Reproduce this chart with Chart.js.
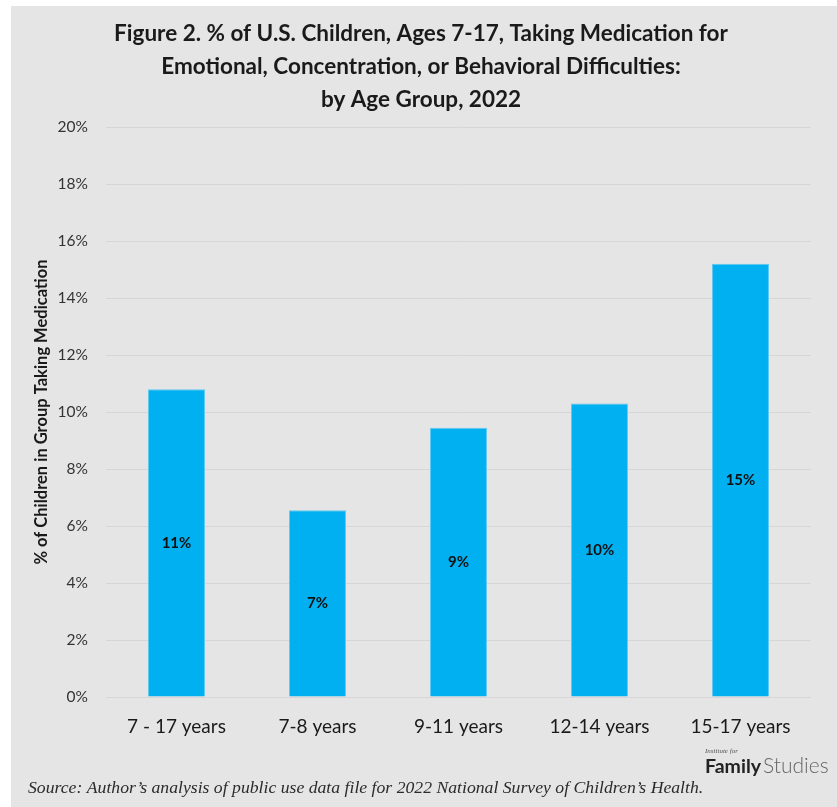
<!DOCTYPE html>
<html>
<head>
<meta charset="utf-8">
<script src="https://cdn.jsdelivr.net/npm/chart.js@4"></script>
<style>
  html, body { margin: 0; padding: 0; background: #ffffff; }
  #wrap { width: 837px; height: 807px; }
</style>
</head>
<body>
<div id="wrap"><canvas id="ageChart" width="837" height="807"></canvas></div>
<script>
const categories = ['7 - 17 years', '7-8 years', '9-11 years', '12-14 years', '15-17 years'];
const pctTaking = [10.8, 6.55, 9.45, 10.3, 15.2];
const titleLines = [
  'Figure 2. % of U.S. Children, Ages 7-17, Taking Medication for',
  'Emotional, Concentration, or Behavioral Difficulties:',
  'by Age Group, 2022'
];
const yAxisTitle = '% of Children in Group Taking Medication';
const sourceNote = 'Source: Author\u2019s analysis of public use data file for 2022 National Survey of Children\u2019s Health.';

const FONT = 'Lato, "Open Sans", sans-serif';

// grey panel behind everything, plus the footnote and logo
const panelPlugin = {
  id: 'panel',
  beforeDraw(chart) {
    const ctx = chart.ctx;
    ctx.save();
    ctx.fillStyle = '#e5e5e5';
    ctx.fillRect(11, 6, chart.width - 11, chart.height - 6);
    ctx.restore();
  },
  afterDraw(chart) {
    const ctx = chart.ctx;
    ctx.save();
    ctx.fillStyle = '#2b2b2b';
    ctx.font = 'italic 17.7px "Liberation Serif", serif';
    ctx.textBaseline = 'alphabetic';
    ctx.textAlign = 'left';
    ctx.fillText(sourceNote, 28, 793);

    ctx.font = 'italic 7px "Liberation Serif", serif';
    ctx.fillStyle = '#555';
    ctx.fillText('Institute for', 705, 753);
    ctx.font = 'bold 19.5px ' + FONT;
    ctx.fillStyle = '#222';
    ctx.fillText('Family', 705, 773);
    const w = ctx.measureText('Family').width;
    ctx.font = '300 21px ' + FONT;
    ctx.fillStyle = '#666';
    ctx.fillText('Studies', 705 + w + 2, 773);
    ctx.restore();
  }
};

// rounded value written in the middle of each bar
const barLabelPlugin = {
  id: 'barLabels',
  afterDatasetsDraw(chart) {
    const ctx = chart.ctx;
    const meta = chart.getDatasetMeta(0);
    ctx.save();
    ctx.font = 'bold 15px ' + FONT;
    ctx.fillStyle = '#111';
    ctx.textAlign = 'center';
    ctx.textBaseline = 'middle';
    meta.data.forEach((bar, i) => {
      const mid = (bar.y + bar.base) / 2;
      ctx.fillText(Math.round(pctTaking[i]) + '%', bar.x, mid);
    });
    ctx.restore();
  }
};

new Chart(document.getElementById('ageChart'), {
  type: 'bar',
  data: {
    labels: categories,
    datasets: [{
      data: pctTaking,
      backgroundColor: '#00b0f0',
      borderColor: '#5fc8f2',
      borderWidth: 1,
      categoryPercentage: 1.0,
      barPercentage: 0.404
    }]
  },
  options: {
    responsive: false,
    animation: false,
    layout: { padding: { left: 31, right: 26, top: 0, bottom: 60 } },
    plugins: {
      legend: { display: false },
      tooltip: { enabled: false },
      title: {
        display: true,
        text: titleLines,
        color: '#1a1a1a',
        font: { family: FONT, size: 22.5, weight: 'bold', lineHeight: 1.467 },
        padding: { top: 17.5, bottom: 10.5 }
      }
    },
    scales: {
      x: {
        grid: { display: false },
        border: { display: false },
        ticks: {
          color: '#1a1a1a',
          font: { family: FONT, size: 19 },
          padding: 10,
          maxRotation: 0
        },
        afterFit(scale) { scale.height = 50; }
      },
      y: {
        min: 0,
        max: 20,
        grid: { color: '#d6d6d6', lineWidth: 1, drawTicks: false },
        border: { display: false },
        ticks: {
          stepSize: 2,
          color: '#333',
          font: { family: FONT, size: 15.5 },
          padding: 18,
          callback: v => v + '%'
        },
        title: {
          display: true,
          text: yAxisTitle,
          color: '#1a1a1a',
          font: { family: FONT, size: 16.5, weight: 'bold' },
          padding: { top: 1, bottom: 0 }
        },
        afterFit(scale) { scale.width = 75; }
      }
    }
  },
  plugins: [panelPlugin, barLabelPlugin]
});
</script>
</body>
</html>
